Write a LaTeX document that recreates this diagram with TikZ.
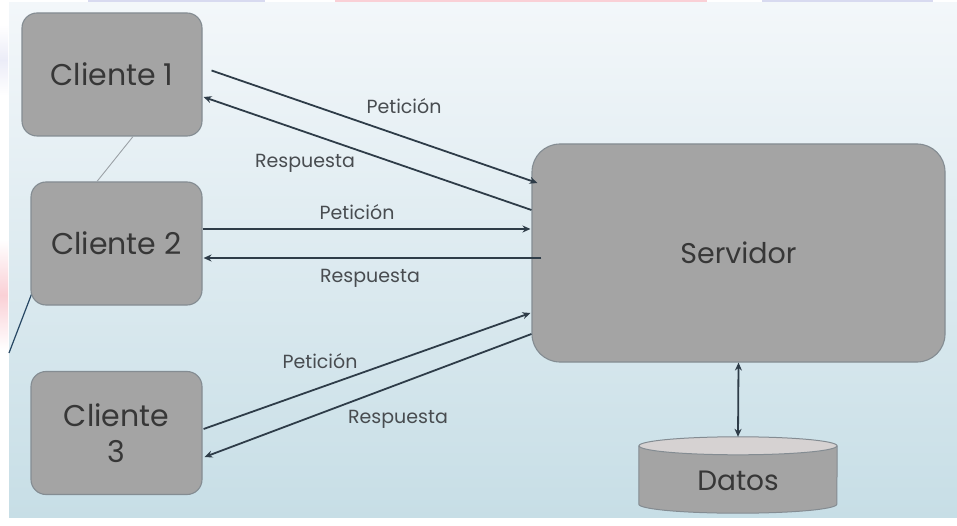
\documentclass[tikz,border=0pt]{standalone}
\usepackage{fontspec}
\setmainfont{Poppins}
\usetikzlibrary{arrows.meta,calc}
\definecolor{boxfill}{RGB}{164,164,164}
\definecolor{boxline}{RGB}{132,140,146}
\definecolor{txt}{RGB}{55,55,55}
\definecolor{lbl}{RGB}{72,76,80}
\definecolor{arr}{RGB}{46,60,72}
\definecolor{bgtop}{RGB}{243,247,250}
\definecolor{bgbot}{RGB}{199,222,230}
\definecolor{lav}{RGB}{216,218,240}
\definecolor{pinkc}{RGB}{250,208,214}
\definecolor{cyltop}{RGB}{214,210,210}
\definecolor{deco}{RGB}{40,72,100}
\tikzset{
  clientbox/.style={draw=boxline, line width=1.1pt, fill=boxfill, rounded corners=15pt,
    text=txt, align=center, font=\fontsize{30}{36}\selectfont,
    minimum height=123pt, inner sep=0pt},
  serverbox/.style={draw=boxline, line width=1.1pt, fill=boxfill, rounded corners=28pt,
    text=txt, font=\fontsize{28.5}{34}\selectfont,
    minimum width=413pt, minimum height=218pt, inner sep=0pt},
  msg/.style={draw=arr, line width=1.8pt, -{Stealth[length=8pt,width=7pt]}},
  lab/.style={text=lbl, font=\fontsize{19}{22}\selectfont, inner sep=0pt}
}
\begin{document}
\begin{tikzpicture}[x=1pt,y=-1pt]
\useasboundingbox (0,0) rectangle (957,526);
\fill[white] (0,0) rectangle (957,526);
% decorative margins
\fill[lav] (88,0) rectangle (265,3);
\fill[pinkc] (335,0) rectangle (707,3);
\fill[lav] (762,0) rectangle (933,3);
\shade[top color=white, bottom color=white, middle color=lav!50] (0,25) rectangle (8,95);
\shade[top color=white, bottom color=white, middle color=pinkc] (0,240) rectangle (8,350);
% slide background
\shade[top color=bgtop, bottom color=bgbot] (9,3) rectangle (957,517);
% decorative template line
\draw[deco, line width=1.2pt] (32,293) -- (9,353);

% nodes
\node[clientbox, minimum width=180pt] (c1) at (112,74.5) {Cliente 1};
\node[clientbox, minimum width=171pt] (c2) at (116.5,243.5) {Cliente 2};
\node[clientbox, minimum width=171pt] (c3) at (116.5,433) {Cliente\\3};
\node[serverbox] (srv) at (738.5,253) {Servidor};

\draw[boxline!80, line width=0.9pt] ($(c1.south)+(21,0)$) -- ($(c2.north)+(-19.5,0)$);

% Datos cylinder
\node[minimum width=198pt, minimum height=76pt, inner sep=0pt] (datos) at (738,475) {};
\fill[boxfill] ($(datos.north west)+(0,9)$) -- ($(datos.south west)+(0,-9)$)
  arc[start angle=180, end angle=360, x radius=99pt, y radius=9pt]
  -- ($(datos.north east)+(0,9)$) -- cycle;
\draw[boxline, line width=1pt] ($(datos.north west)+(0,9)$) -- ($(datos.south west)+(0,-9)$)
  arc[start angle=180, end angle=360, x radius=99pt, y radius=9pt]
  -- ($(datos.north east)+(0,9)$);
\draw[boxline, line width=1pt, fill=cyltop] ($(datos.north)+(0,9)$) ellipse[x radius=99pt, y radius=9pt];
\node[text=txt, font=\fontsize{28}{32}\selectfont] (dlabel) at ($(datos.center)+(0,6)$) {Datos};

% connectors
\draw[msg] ($(c1.east)+(9,-4)$) -- ($(srv.west)+(6,-70)$);
\draw[msg] ($(srv.west)+(0,-43)$) -- ($(c1.east)+(1,22.5)$);
\draw[msg] ($(c2.east)+(0,-14.5)$) -- ($(srv.west)+(-1,-24)$);
\draw[msg] ($(srv.west)+(10,5)$) -- ($(c2.east)+(1,14.5)$);
\draw[msg] ($(c3.east)+(1,-4)$) -- ($(srv.west)+(-1,60)$);
\draw[msg] ($(srv.west)+(0,81)$) -- ($(c3.east)+(2,24)$);
\draw[draw=arr, line width=1.8pt, {Stealth[length=8pt,width=7pt]}-{Stealth[length=8pt,width=7pt]}] (srv.south) -- (datos.north);

% labels
\node[lab] (l1) at (404,106) {Petición};
\node[lab] (l2) at (305,163) {Respuesta};
\node[lab] (l3) at (357,212) {Petición};
\node[lab] (l4) at (370,278) {Respuesta};
\node[lab] (l5) at (320,361) {Petición};
\node[lab] (l6) at (398,419) {Respuesta};
\end{tikzpicture}
\end{document}
